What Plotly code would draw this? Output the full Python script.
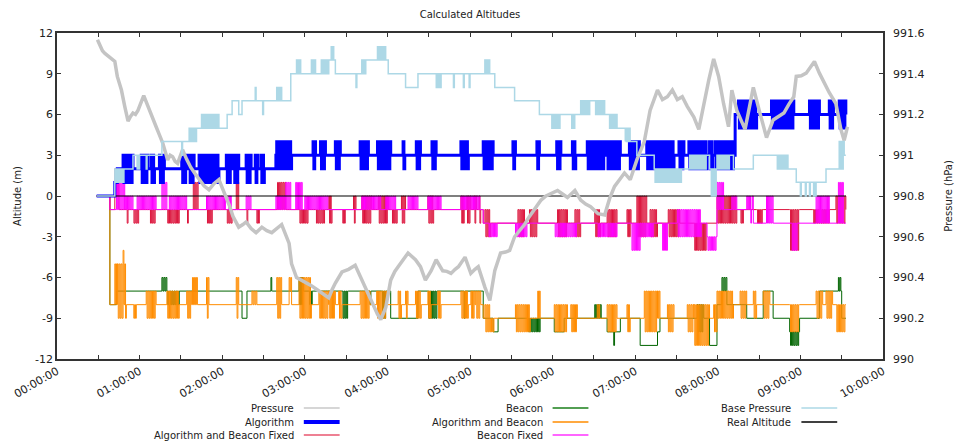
import plotly.graph_objects as go

# ---------------- DATA (hours, values) ----------------
HOUR_TICKS = [0, 1, 2, 3, 4, 5, 6, 7, 8, 9, 10]
HOUR_LABELS = ["00:00:00", "01:00:00", "02:00:00", "03:00:00", "04:00:00", "05:00:00",
               "06:00:00", "07:00:00", "08:00:00", "09:00:00", "10:00:00"]
ALT_TICKS = [-12, -9, -6, -3, 0, 3, 6, 9, 12]
ALT_LABELS = ["-12", "-9", "-6", "-3", "0", "3", "6", "9", "12"]
P_TICKS = [990, 990.2, 990.4, 990.6, 990.8, 991, 991.2, 991.4, 991.6]
P_LABELS = ["990", "990.2", "990.4", "990.6", "990.8", "991", "991.2", "991.4", "991.6"]

# Pressure (hPa), noisy gray line
PRESSURE_T = [0.49, 0.52, 0.55, 0.58, 0.64, 0.67, 0.70, 0.73, 0.78, 0.82, 0.86, 0.89, 0.92, 0.95,
              0.98, 1.05, 1.08, 1.12, 1.16, 1.20, 1.24, 1.28, 1.34, 1.37, 1.40, 1.43, 1.46, 1.52,
              1.57, 1.62, 1.67, 1.72, 1.78, 1.84, 1.90, 1.96, 2.05, 2.09, 2.13, 2.20, 2.25, 2.29,
              2.35, 2.41, 2.48, 2.54, 2.60, 2.66, 2.72, 2.81, 2.84, 2.90, 2.95, 3.00, 3.08, 3.15,
              3.22, 3.29, 3.33, 3.37, 3.45, 3.53, 3.61, 3.69, 3.75, 3.81, 3.88, 3.92, 3.98, 4.04,
              4.09, 4.13, 4.19, 4.25, 4.34, 4.40, 4.46, 4.53, 4.59, 4.63, 4.67, 4.72, 4.77, 4.82,
              4.86, 4.94, 5.01, 5.06, 5.10, 5.18, 5.24, 5.30, 5.37, 5.43, 5.48, 5.54, 5.61, 5.66,
              5.72, 5.79, 5.86, 5.92, 5.98, 6.06, 6.12, 6.18, 6.27, 6.34, 6.40, 6.46, 6.55, 6.63,
              6.69, 6.75, 6.81, 6.87, 6.94, 7.02, 7.11, 7.18, 7.27, 7.33, 7.39, 7.45, 7.51, 7.57,
              7.63, 7.71, 7.77, 7.83, 7.89, 7.95, 8.01, 8.07, 8.13, 8.17, 8.23, 8.33, 8.43, 8.51,
              8.59, 8.67, 8.74, 8.80, 8.86, 8.92, 8.95, 9.01, 9.07, 9.12, 9.17, 9.23, 9.29, 9.35,
              9.43, 9.49, 9.53, 9.57]
PRESSURE_V = [991.567, 991.54, 991.513, 991.50, 991.48, 991.47, 991.46, 991.387, 991.32, 991.24,
              991.167, 991.19, 991.207, 991.20, 991.22, 991.293, 991.26, 991.22, 991.18, 991.14,
              991.10, 991.06, 990.977, 991.0, 990.993, 990.97, 990.96, 991.027, 990.98, 990.94,
              990.91, 990.88, 990.85, 990.83, 990.86, 990.88, 990.793, 990.75, 990.70, 990.647,
              990.66, 990.673, 990.64, 990.62, 990.647, 990.63, 990.62, 990.64, 990.66, 990.567,
              990.467, 990.40, 990.39, 990.38, 990.36, 990.34, 990.32, 990.30, 990.34, 990.373,
              990.427, 990.44, 990.46, 990.387, 990.34, 990.287, 990.22, 990.193, 990.253, 990.387,
              990.43, 990.453, 990.49, 990.52, 990.487, 990.453, 990.387, 990.433, 990.487,
              990.46, 990.433, 990.43, 990.42, 990.44, 990.453, 990.50, 990.42, 990.44, 990.453,
              990.353, 990.287, 990.433, 990.52, 990.525, 990.533, 990.60, 990.633, 990.66,
              990.70, 990.74, 990.78, 990.80, 990.813, 990.827, 990.81, 990.793, 990.827, 990.78,
              990.76, 990.747, 990.713, 990.707, 990.787, 990.847, 990.88, 990.913, 990.88,
              990.977, 991.067, 991.22, 991.32, 991.273, 991.287, 991.32, 991.273, 991.287,
              991.24, 991.187, 991.127, 991.253, 991.367, 991.473, 991.387, 991.253, 991.14,
              991.32, 991.22, 991.127, 991.333, 991.207, 991.087, 991.173, 991.19, 991.207,
              991.25, 991.287, 991.387, 991.39, 991.403, 991.43, 991.46, 991.403, 991.35, 991.307,
              991.253, 991.127, 991.073, 991.14]

# Step series: [time, value] change points; bands: [t_start, t_end, low, high] of rapid switching
BASE_STEPS = [[0.48, 990.8], [0.70, 990.867], [0.81, 990.933], [0.92, 991.0], [1.27, 991.067],
              [1.60, 991.133], [1.75, 991.2], [1.96, 991.133], [2.06, 991.2], [2.12, 991.267],
              [2.20, 991.2], [2.24, 991.267], [2.83, 991.4], [3.29, 991.467], [3.37, 991.4],
              [3.75, 991.467], [4.01, 991.4], [4.22, 991.333], [4.37, 991.4], [5.30, 991.333],
              [5.54, 991.267], [5.84, 991.2], [6.34, 991.267], [6.63, 991.2], [6.69, 991.133],
              [6.88, 991.067], [7.02, 991.0], [7.23, 990.933], [7.66, 991.0], [7.90, 990.933],
              [7.99, 991.0], [8.19, 990.933], [8.43, 991.0], [8.86, 990.933], [8.95, 990.867],
              [9.31, 990.933], [9.47, 991.0], [9.55, 991.0]]
BASE_BANDS = [[0.70, 0.81, 990.867, 990.933], [0.96, 1.00, 990.933, 991.0], [1.07, 1.10, 990.933, 991.0],
              [1.50, 1.53, 991.0, 991.067], [1.60, 1.70, 991.067, 991.133], [1.75, 1.96, 991.133, 991.2],
              [2.40, 2.42, 991.267, 991.333], [2.48, 2.50, 991.2, 991.267], [2.66, 2.72, 991.267, 991.333],
              [2.90, 2.95, 991.4, 991.467], [3.08, 3.13, 991.4, 991.467], [3.20, 3.29, 991.4, 991.467],
              [3.32, 3.35, 991.467, 991.533], [3.61, 3.63, 991.333, 991.4], [3.69, 3.75, 991.4, 991.467],
              [3.88, 3.99, 991.467, 991.533], [4.58, 4.65, 991.333, 991.4], [4.79, 4.81, 991.333, 991.4],
              [4.91, 4.93, 991.333, 991.4], [4.98, 5.01, 991.333, 991.4], [5.18, 5.25, 991.4, 991.467],
              [5.98, 6.10, 991.133, 991.2], [6.22, 6.28, 991.133, 991.2], [6.34, 6.46, 991.2, 991.267],
              [6.51, 6.63, 991.2, 991.267], [6.70, 6.78, 991.133, 991.2], [6.88, 6.95, 991.067, 991.133],
              [7.23, 7.57, 990.867, 990.933], [7.66, 7.87, 990.933, 991.0], [7.91, 7.98, 990.8, 990.933],
              [7.99, 8.14, 990.933, 991.0], [8.71, 8.86, 990.933, 991.0], [8.99, 9.02, 990.8, 990.867],
              [9.05, 9.07, 990.8, 990.867], [9.10, 9.12, 990.8, 990.867], [9.15, 9.19, 990.8, 990.867],
              [9.47, 9.53, 990.933, 991.067]]

ALG_STEPS = [[0.48, 0], [0.70, 1], [0.73, 2], [2.65, 3], [8.21, 6], [9.55, 6]]
ALG_BANDS = [[0.80, 0.92, 1, 3], [1.02, 1.10, 1, 3], [1.14, 1.18, 1, 3], [1.24, 1.30, 1, 3],
             [1.51, 1.57, 1, 3], [1.60, 1.66, 1, 3], [1.72, 1.96, 1, 3], [2.05, 2.11, 1, 3],
             [2.14, 2.20, 1, 3], [2.29, 2.35, 1, 3], [2.40, 2.43, 1, 3], [2.47, 2.51, 1, 3],
             [2.66, 2.84, 2, 4], [3.10, 3.13, 2, 4], [3.19, 3.25, 2, 4], [3.37, 3.43, 2, 4],
             [3.67, 3.77, 2, 4], [3.88, 4.04, 2, 4], [4.19, 4.21, 2, 4], [4.35, 4.40, 2, 4],
             [4.54, 4.59, 2, 4], [4.89, 4.98, 2, 4], [5.16, 5.28, 2, 4], [5.52, 5.55, 2, 4],
             [5.81, 5.84, 2, 4], [6.05, 6.10, 2, 4], [6.24, 6.28, 2, 4], [6.42, 6.63, 2, 4],
             [6.66, 6.82, 2, 4], [6.93, 7.05, 2, 4], [7.14, 7.27, 2, 4], [7.27, 7.47, 2, 4],
             [7.53, 7.59, 2, 4], [7.65, 7.87, 2, 4], [7.90, 7.94, 2, 4], [7.97, 8.15, 2, 4],
             [8.17, 8.20, 2, 4], [8.25, 8.47, 5, 7], [8.65, 8.92, 5, 7], [9.11, 9.23, 5, 7],
             [9.35, 9.40, 5, 7], [9.47, 9.55, 5, 7]]

REAL_T = [0.48, 9.55]
REAL_V = [0, 0]

ABF_STEPS = [[0.48, 0], [0.64, -1], [5.16, -2], [7.99, -1], [9.55, -1]]
ABF_BANDS = [[0.70, 0.75, 0, 2], [0.84, 0.86, -2, -1], [0.92, 1.00, -2, -1], [1.12, 1.20, -2, -1],
             [1.33, 1.48, -2, -1], [1.57, 1.60, -2, -1], [1.65, 1.72, -1, 1], [1.81, 1.88, -2, -1],
             [2.05, 2.12, -2, -1], [2.17, 2.20, -1, 1], [2.29, 2.31, -2, -1], [2.41, 2.45, -2, -1],
             [2.67, 2.77, -1, 1], [2.93, 3.05, -2, -1], [3.13, 3.25, -2, -1], [3.29, 3.33, -2, 0],
             [3.45, 3.49, -2, -1], [3.59, 3.62, -2, 0], [3.69, 3.81, -2, 0], [3.89, 4.01, -2, 0],
             [4.05, 4.13, -2, -1], [4.17, 4.22, -2, 0], [4.49, 4.56, -2, 0], [4.89, 4.93, -2, 0],
             [4.96, 5.01, -2, 0], [5.05, 5.08, -2, 0], [5.11, 5.13, -2, 0], [5.18, 5.25, -3, -1],
             [5.58, 5.66, -3, -1], [5.72, 5.82, -3, -1], [6.06, 6.18, -3, -1], [6.27, 6.34, -3, -1],
             [6.51, 6.58, -3, -1], [6.66, 6.78, -3, -1], [6.90, 6.95, -3, -1], [7.02, 7.14, -3, 0],
             [7.18, 7.27, -3, -1], [7.40, 7.54, -3, -1], [7.71, 7.87, -4, -2], [7.99, 8.23, -2, 0],
             [8.27, 8.31, -2, -1], [8.47, 8.55, -2, -1], [8.87, 8.99, -4, -1], [9.15, 9.35, -2, -1],
             [9.43, 9.55, -2, 0]]

BF_STEPS = [[0.48, 0], [0.64, -1], [5.16, -2], [7.99, -1], [8.40, -2], [9.55, -2]]
BF_BANDS = [[0.72, 0.82, -1, 1], [0.82, 0.92, -1, 0], [0.97, 1.20, -1, 0], [1.27, 1.33, -1, 1],
            [1.36, 1.57, -1, 0], [1.81, 2.05, -1, 0], [2.08, 2.12, -1, 0], [2.29, 2.36, -1, 0],
            [2.65, 2.77, -1, 0], [2.77, 2.83, -1, 1], [2.89, 2.98, -1, 1], [3.00, 3.29, -1, 0],
            [3.69, 3.93, -1, 0], [3.98, 4.10, -1, 0], [4.25, 4.37, -1, 0], [4.49, 4.65, -1, 0],
            [4.89, 5.13, -1, 0], [5.22, 5.34, -3, -2], [5.54, 5.70, -3, -2], [6.02, 6.30, -3, -2],
            [6.54, 6.78, -3, -2], [6.95, 7.06, -4, -2], [7.06, 7.23, -3, -2], [7.32, 7.39, -4, -2],
            [7.51, 7.80, -3, -1], [7.87, 7.99, -4, -3], [7.99, 8.07, -1, 1], [8.17, 8.23, -1, 0],
            [8.35, 8.43, -1, 0], [8.59, 8.67, -2, 0], [8.89, 8.96, -4, -2], [9.19, 9.35, -2, 0],
            [9.46, 9.52, -2, 1]]

BEACON_STEPS = [[0.48, 0], [0.64, -8], [0.72, -7], [2.24, -9], [2.30, -7], [4.04, -9], [4.37, -7],
                [5.16, -9], [5.28, -10], [5.34, -9], [6.02, -10], [6.14, -9], [6.66, -10],
                [6.82, -9], [7.06, -11], [7.27, -10], [7.30, -9], [7.90, -11], [7.99, -8],
                [8.35, -9], [8.55, -7], [8.67, -9], [8.87, -10], [8.99, -9], [9.23, -7],
                [9.50, -9], [9.55, -9]]
BEACON_BANDS = [[1.27, 1.33, -7, -6], [1.33, 1.48, -8, -7], [2.59, 2.61, -7, -6], [2.93, 2.98, -8, -6],
                [3.05, 3.10, -8, -7], [3.45, 3.53, -9, -7], [3.78, 3.81, -8, -7], [3.93, 3.99, -9, -7],
                [4.49, 4.61, -9, -7], [4.92, 4.95, -9, -7], [5.70, 5.86, -10, -9], [6.51, 6.60, -9, -8],
                [6.73, 6.75, -11, -10], [7.75, 7.83, -10, -8], [8.05, 8.11, -7, -6], [8.87, 8.99, -11, -10],
                [9.46, 9.49, -7, -6]]

AB_STEPS = [[0.48, 0], [0.64, -8], [5.16, -9], [7.99, -8], [9.55, -8]]
AB_BANDS = [[0.70, 0.73, -8, -5], [0.73, 0.80, -9, -5], [0.80, 0.82, -8, -4], [0.82, 0.84, -9, -5],
            [0.92, 0.96, -9, -8], [1.08, 1.20, -9, -7], [1.33, 1.48, -9, -7], [1.57, 1.63, -9, -7],
            [1.64, 1.70, -8, -6], [1.81, 1.84, -9, -6], [2.17, 2.20, -9, -6], [2.36, 2.42, -8, -7],
            [2.66, 2.72, -9, -6], [2.81, 2.84, -7, -6], [2.93, 3.08, -9, -6], [3.17, 3.29, -9, -7],
            [3.29, 3.37, -9, -7], [3.41, 3.45, -9, -7], [3.67, 3.79, -9, -7], [3.87, 3.99, -9, -7],
            [4.13, 4.17, -9, -7], [4.22, 4.25, -9, -7], [4.34, 4.41, -9, -7], [4.49, 4.53, -9, -7],
            [4.61, 4.65, -9, -7], [4.89, 4.98, -9, -7], [5.01, 5.06, -9, -7], [5.07, 5.13, -9, -7],
            [5.18, 5.25, -10, -8], [5.25, 5.30, -10, -9], [5.55, 5.73, -10, -8], [5.82, 5.86, -9, -7],
            [6.02, 6.18, -10, -8], [6.22, 6.30, -10, -8], [6.54, 6.58, -9, -8], [6.66, 6.78, -10, -8],
            [6.90, 6.94, -10, -8], [7.11, 7.27, -10, -7], [7.27, 7.31, -9, -7], [7.39, 7.47, -10, -8],
            [7.63, 7.71, -10, -8], [7.71, 7.90, -11, -8], [7.95, 7.99, -10, -8], [7.99, 8.19, -9, -7],
            [8.27, 8.35, -9, -7], [8.43, 8.47, -9, -7], [8.55, 8.63, -9, -7], [8.87, 8.99, -10, -8],
            [9.19, 9.27, -9, -7], [9.31, 9.39, -9, -7], [9.43, 9.55, -10, -8]]

SWITCH_SPACING = 0.011  # hours between successive readings inside a switching band


def level_at(steps, t):
    v = steps[0][1]
    for ts, vs in steps:
        if ts <= t + 1e-9:
            v = vs
        else:
            break
    return v


def build(steps, bands):
    ev = [(t, v, 0) for t, v in steps]
    for t0, t1, lo, hi in bands:
        n = max(2, int(round((t1 - t0) / SWITCH_SPACING)))
        for k in range(n):
            ev.append((t0 + k * (t1 - t0) / n, hi if k % 2 == 0 else lo, 1))
        ev.append((t1, level_at(steps, t1), 1))
    ev.sort(key=lambda e: (e[0], e[2]))
    return [e[0] for e in ev], [e[1] for e in ev]


FONT = "DejaVu Sans"
TXT = "#222222"
AX = "#333333"

fig = go.Figure()


def step_trace(x, y, color, width, name, axis="y"):
    fig.add_trace(go.Scatter(x=x, y=y, mode="lines", name=name, yaxis=axis,
                             line=dict(color=color, width=width, shape="hv"),
                             showlegend=False, hoverinfo="skip"))


fig.add_trace(go.Scatter(x=PRESSURE_T, y=PRESSURE_V, mode="lines", name="Pressure", yaxis="y2",
                         line=dict(color="#c4c4c4", width=3.5), showlegend=False, hoverinfo="skip"))
bx, by = build(BASE_STEPS, BASE_BANDS)
step_trace(bx, by, "#add8e6", 1.5, "Base Pressure", "y2")
gx, gy = build(BEACON_STEPS, BEACON_BANDS)
step_trace(gx, gy, "#006400", 1, "Beacon")
ox, oy = build(AB_STEPS, AB_BANDS)
step_trace(ox, oy, "#ff8c00", 1, "Algorithm and Beacon")
rx, ry = build(ABF_STEPS, ABF_BANDS)
step_trace(rx, ry, "#dc143c", 1, "Algorithm and Beacon Fixed")
mx, my = build(BF_STEPS, BF_BANDS)
step_trace(mx, my, "#ff00ff", 1, "Beacon Fixed")
ax_, ay_ = build(ALG_STEPS, ALG_BANDS)
step_trace(ax_, ay_, "#0000ff", 3, "Algorithm")
step_trace(REAL_T, REAL_V, "#000000", 1.2, "Real Altitude")

# ---------------- legend (text left of sample line) ----------------
PX_L, PX_R, PX_T, PX_B = 57, 887, 33, 359
def px(X):
    return (X - PX_L) / (PX_R - PX_L)
def py(Y):
    return (PX_B - Y) / (PX_B - PX_T)

LEGEND = [
    ("Pressure", "#c8c8c8", 1.5, 297, 408),
    ("Algorithm", "#0000ff", 4, 297, 422),
    ("Algorithm and Beacon Fixed", "#e8566f", 1.5, 297, 435),
    ("Beacon", "#1a7f1a", 1.5, 547, 408),
    ("Algorithm and Beacon", "#ff8c00", 1.5, 547, 422),
    ("Beacon Fixed", "#ff33ff", 1.5, 547, 435),
    ("Base Pressure", "#add8e6", 1.5, 797, 408),
    ("Real Altitude", "#000000", 1.5, 797, 422),
]
annotations = []
shapes = []
for name, col, w, xr, yc in LEGEND:
    annotations.append(dict(text=name, x=px(xr), y=py(yc), xref="paper", yref="paper",
                            xanchor="right", yanchor="middle", showarrow=False,
                            font=dict(family=FONT, size=10, color=TXT)))
    shapes.append(dict(type="line", xref="paper", yref="paper", x0=px(xr + 8), x1=px(xr + 44),
                       y0=py(yc), y1=py(yc), line=dict(color=col, width=w)))

tickvals_x = [h / 2 for h in range(0, 21)]
ticktext_x = [HOUR_LABELS[i // 2] if i % 2 == 0 else "" for i in range(0, 21)]

fig.update_layout(
    width=965, height=443,
    margin=dict(l=57, r=78, t=33, b=84),
    paper_bgcolor="white", plot_bgcolor="white",
    title=dict(text="Calculated Altitudes", x=0.5, xref="paper", y=1 - 14 / 443, yref="container",
               xanchor="center", yanchor="middle", font=dict(family=FONT, size=10, color=TXT)),
    showlegend=False,
    xaxis=dict(range=[0, 10], tickvals=tickvals_x, ticktext=ticktext_x, tickangle=-30,
               ticks="inside", ticklen=4, tickcolor=AX, showline=True, linecolor=AX, linewidth=1.5,
               mirror="ticks", showgrid=False, zeroline=False,
               tickfont=dict(family=FONT, size=11, color=TXT)),
    yaxis=dict(range=[-12, 12], tickvals=ALT_TICKS, ticktext=ALT_LABELS, ticks="inside", ticklen=4,
               tickcolor=AX, showline=True, linecolor=AX, linewidth=1.5, showgrid=False,
               zeroline=False, tickfont=dict(family=FONT, size=11, color=TXT),
               title=dict(text="Altitude (m)", font=dict(family=FONT, size=10, color=TXT), standoff=12)),
    yaxis2=dict(range=[990, 991.6], tickvals=P_TICKS, ticktext=P_LABELS, overlaying="y", side="right",
                ticks="inside", ticklen=4, tickcolor=AX, showline=True, linecolor=AX, linewidth=1.5,
                showgrid=False, zeroline=False, tickfont=dict(family=FONT, size=11, color=TXT),
                ticklabelstandoff=6,
                title=dict(text="Pressure (hPa)", font=dict(family=FONT, size=10, color=TXT), standoff=22)),
    annotations=annotations,
    shapes=shapes,
)

fig.write_html("out.html")
